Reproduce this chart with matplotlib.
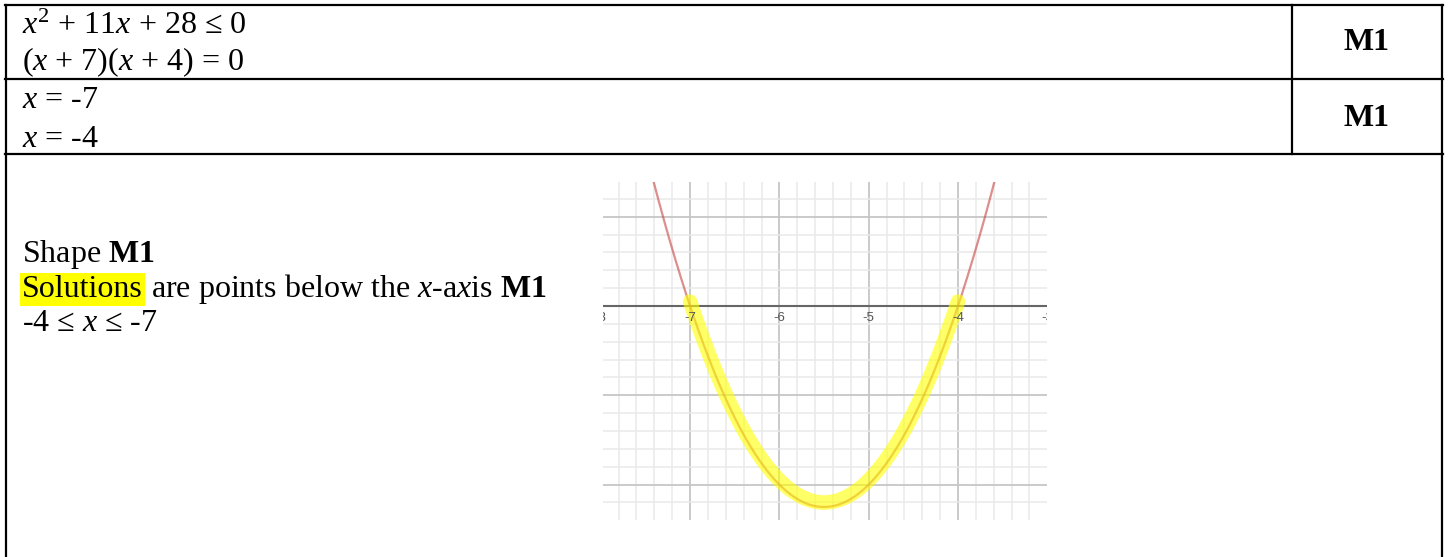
import numpy as np
import matplotlib.pyplot as plt
from matplotlib.lines import Line2D

plt.rcParams['font.family'] = ['Liberation Serif', 'DejaVu Serif']
plt.rcParams['mathtext.fontset'] = 'custom'
plt.rcParams['mathtext.rm'] = 'Liberation Serif'
plt.rcParams['mathtext.it'] = 'Liberation Serif:italic'
plt.rcParams['mathtext.bf'] = 'Liberation Serif:bold'

# quadratic y = x^2 + 11x + 28 and its roots
coeffs = [1, 11, 28]
roots = [-7, -4]
tick_values = [-8, -7, -6, -5, -4, -3]
tick_labels = ['-8', '-7', '-6', '-5', '-4', '-3']

W, H = 1451, 557
fig = plt.figure(figsize=(W / 100, H / 100), dpi=100)


def fx(x):
    return x / W


def fy(y):
    return 1 - y / H


def line(x0, y0, x1, y1):
    fig.add_artist(Line2D([fx(x0), fx(x1)], [fy(y0), fy(y1)], color='black', lw=1.6))


# table borders
line(5, 5, 1443, 5)
line(6, 5, 6, 557)
line(1442, 5, 1442, 557)
line(5, 79, 1443, 79)
line(5, 154, 1443, 154)
line(1292, 5, 1292, 154)

fs = 23
fig.text(fx(22), fy(34), r'$x^2$ + 11$x$ + 28 ≤ 0', fontsize=fs, va='baseline')
fig.text(fx(22), fy(70), r'($x$ + 7)($x$ + 4) = 0', fontsize=fs, va='baseline')
fig.text(fx(22), fy(108), r'$x$ = -7', fontsize=fs, va='baseline')
fig.text(fx(22), fy(147), r'$x$ = -4', fontsize=fs, va='baseline')
fig.text(fx(1367), fy(43), 'M1', fontsize=fs, fontweight='bold', ha='center', va='center')
fig.text(fx(1367), fy(119), 'M1', fontsize=fs, fontweight='bold', ha='center', va='center')

fig.text(fx(22), fy(262), r'Shape $\mathbf{M1}$', fontsize=fs, va='baseline')
hl = fig.text(fx(22), fy(297), 'Solutions', fontsize=fs, va='baseline',
              bbox=dict(facecolor='#ffff00', edgecolor='none', pad=1.5))
fig.canvas.draw()
hl_w = hl.get_window_extent(fig.canvas.get_renderer()).width
fig.text(fx(22 + hl_w), fy(297), r' are points below the $x$-a$x$is $\mathbf{M1}$',
         fontsize=fs, va='baseline')
fig.text(fx(22), fy(331), r'-4 ≤ $x$ ≤ -7', fontsize=fs, va='baseline')

# graph
ax = fig.add_axes([fx(603), fy(520), (1047 - 603) / W, (520 - 182) / H])
ax.set_xticks(np.arange(-8, -2.5, 1))
ax.set_xticks(np.arange(-8, -2.9, 0.2), minor=True)
ax.set_yticks(np.arange(-3, 2.5, 1))
ax.set_yticks(np.arange(-3, 2.1, 0.2), minor=True)
ax.set_xlim(-7.975, -3.003)
ax.set_ylim(-2.396, 1.389)
ax.grid(which='minor', color='#e9e9e9', lw=1.1)
ax.grid(which='major', color='#c6c6c6', lw=1.3)
ax.tick_params(which='both', length=0, labelbottom=False, labelleft=False)
for s in ax.spines.values():
    s.set_visible(False)
ax.axhline(0, color='#666666', lw=1.5)

for v, l in zip(tick_values, tick_labels):
    ax.text(v, -0.135, l, ha='center', va='center', fontsize=9.5, color='#555555',
            family='Liberation Sans', clip_on=True)

xs = np.linspace(-8, -3, 400)
ax.plot(xs, np.polyval(coeffs, xs), color='#c74440', lw=1.6, alpha=0.6)

xh = np.linspace(roots[0], roots[1], 200)
ax.plot(xh, np.polyval(coeffs, xh) + 0.05, color='#ffff00', alpha=0.6, lw=10.5,
        solid_capstyle='round')

fig.savefig('out.png', dpi=100)
